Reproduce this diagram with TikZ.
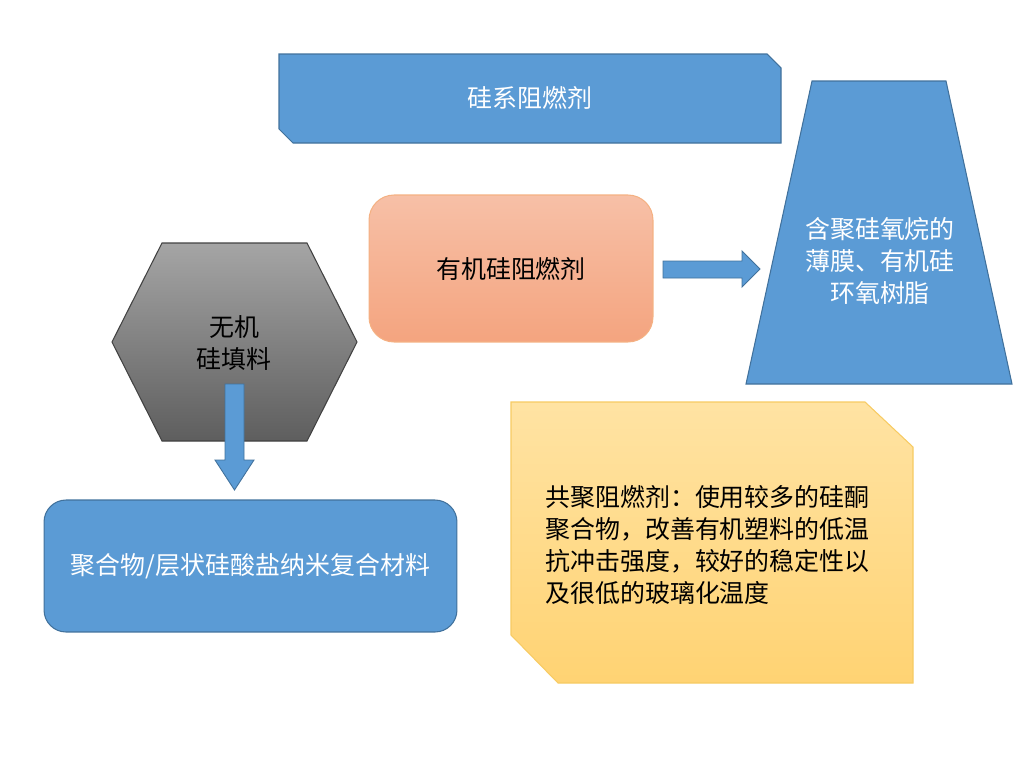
\documentclass[tikz,border=0pt]{standalone}
\usepackage{fontspec}
\newfontfamily\cjk{Noto Sans CJK SC}
\definecolor{bluefill}{HTML}{5B9BD5}
\definecolor{blueline}{HTML}{41719C}
\definecolor{salmontop}{HTML}{F7C0A7}
\definecolor{salmonbot}{HTML}{F4A47F}
\definecolor{salmonline}{HTML}{F4B183}
\definecolor{greytop}{HTML}{A5A5A5}
\definecolor{greybot}{HTML}{5E5E5E}
\definecolor{goldtop}{HTML}{FFE3A3}
\definecolor{goldbot}{HTML}{FFD373}
\definecolor{goldline}{HTML}{F7CB63}
\tikzset{
  txt/.style={font=\cjk\fontsize{14.2}{18.4}\selectfont, inner sep=0pt, align=center},
  bluebox/.style={fill=bluefill, draw=blueline, line width=0.6pt},
  blockarrow/.style={fill=bluefill, draw=blueline, line width=0.5pt}
}
\begin{document}
\begin{tikzpicture}[x=0.02cm,y=-0.02cm]
      \useasboundingbox (0,0) rectangle (1024,768);
      \draw[bluebox] (279,54)--(767,54)--(781,68)--(781,143)--(293,143)--(279,129)--cycle;
      \path (530,98) node[txt,text=white] (silicon) {硅系阻燃剂};
      \draw[bluebox] (812,81)--(946,81)--(1012,384)--(746,384)--cycle;
      \path (880,261) node[txt,text=white] (film) {含聚硅氧烷的\\薄膜、有机硅\\环氧树脂};
      \path (511,268.5) node[txt,draw=salmonline,line width=0.6pt,top color=salmontop,bottom color=salmonbot,
        rounded corners=0.5cm,minimum width=5.68cm,minimum height=2.94cm] (organic) {有机硅阻燃剂};
      \draw[blockarrow] (663,261)--(742,261)--(742,251)--(760,269)--(742,287)--(742,278)--(663,278)--cycle;
      \draw[draw=greybot!70!black,line width=0.6pt,top color=greytop,bottom color=greybot]
        (162,243)--(307,243)--(357,342)--(307,441)--(162,441)--(112,342)--cycle;
      \path (234,343) node[txt] (inorganic) {无机\\硅填料};
      \draw[blockarrow] (225,384)--(244,384)--(244,460)--(254,460)--(234.5,490)--(215,460)--(225,460)--cycle;
      \path (250.5,566) node[txt,text=white,bluebox,rounded corners=0.44cm,
        minimum width=8.26cm,minimum height=2.64cm] (nano) {聚合物/层状硅酸盐纳米复合材料};
      \draw[draw=goldline,line width=0.6pt,top color=goldtop,bottom color=goldbot]
        (511,402)--(865,402)--(913,447)--(913,683)--(558,683)--(511,635)--cycle;
      \path (545,545) node[txt,align=left,anchor=west] (copoly) {共聚阻燃剂：使用较多的硅酮\\聚合物，改善有机塑料的低温\\抗冲击强度，较好的稳定性以\\及很低的玻璃化温度};
\end{tikzpicture}
\end{document}
